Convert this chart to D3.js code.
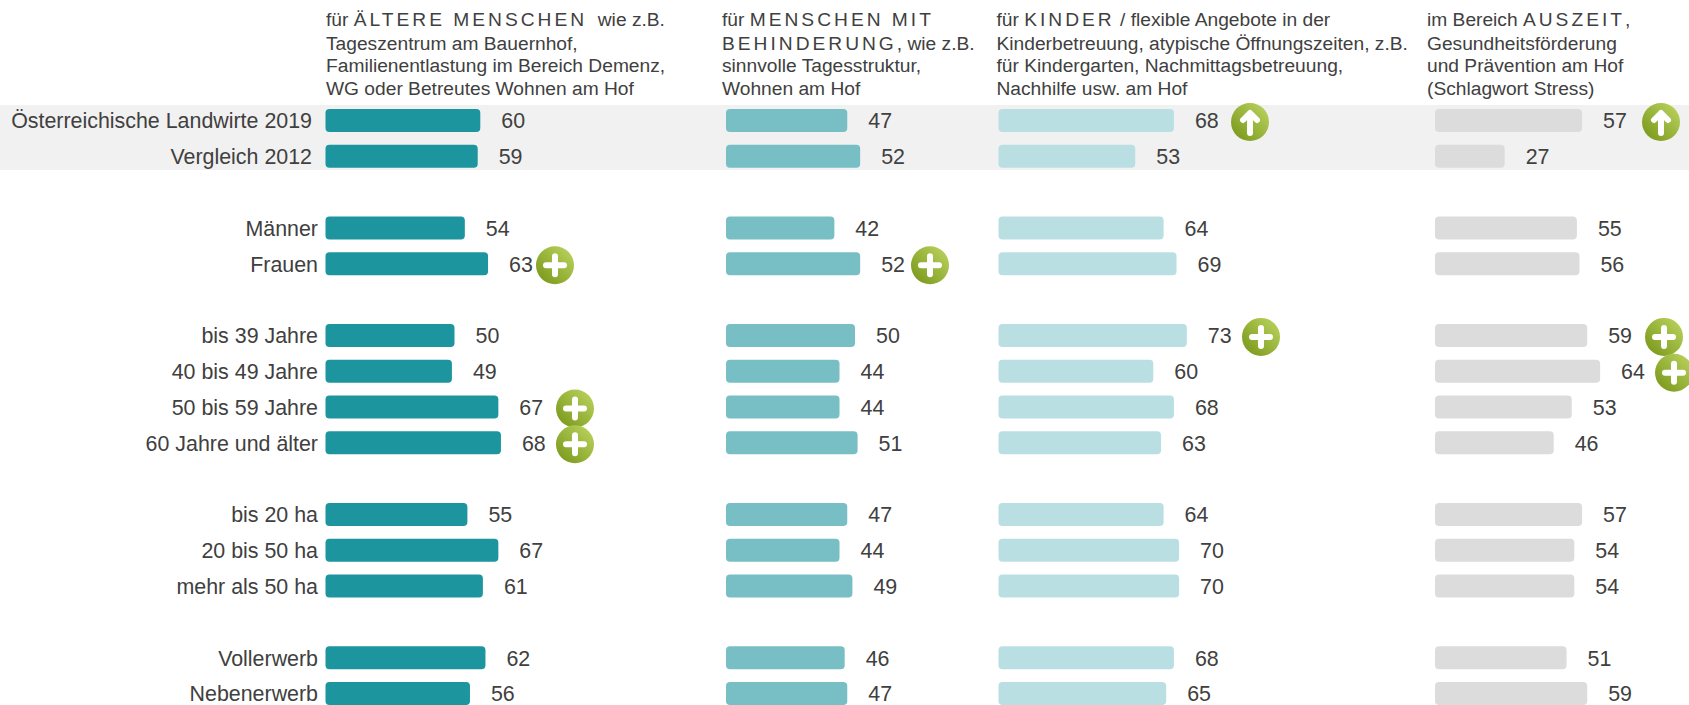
<!DOCTYPE html>
<html><head><meta charset="utf-8">
<script src="https://cdn.jsdelivr.net/npm/d3@7/dist/d3.min.js"></script>
<style>html,body{margin:0;padding:0;background:#fff;overflow:hidden}svg{display:block}text{font-family:"Liberation Sans",Arial,sans-serif;fill:#404040}</style>
</head><body><svg id="c" width="1689" height="705"></svg>
<script>
const rowLabels=["Österreichische Landwirte 2019","Vergleich 2012","Männer","Frauen","bis 39 Jahre","40 bis 49 Jahre","50 bis 59 Jahre","60 Jahre und älter","bis 20 ha","20 bis 50 ha","mehr als 50 ha","Vollerwerb","Nebenerwerb"];
const rowSlots=[0,1,3,4,6,7,8,9,11,12,13,15,16];
const aeltere=[60,59,54,63,50,49,67,68,55,67,61,62,56];
const behinderung=[47,52,42,52,50,44,44,51,47,44,49,46,47];
const kinder=[68,53,64,69,73,60,68,63,64,70,70,68,65];
const auszeit=[57,27,55,56,59,64,53,46,57,54,54,51,59];
const headerAeltere=["für *ÄLTERE MENSCHEN*  wie z.B.","Tageszentrum am Bauernhof,","Familienentlastung im Bereich Demenz,","WG oder Betreutes Wohnen am Hof"];
const headerBehinderung=["für *MENSCHEN MIT*","*BEHINDERUNG*, wie z.B.","sinnvolle Tagesstruktur,","Wohnen am Hof"];
const headerKinder=["für *KINDER* / flexible Angebote in der","Kinderbetreuung, atypische Öffnungszeiten, z.B.","für Kindergarten, Nachmittagsbetreuung,","Nachhilfe usw. am Hof"];
const headerAuszeit=["im Bereich *AUSZEIT*,","Gesundheitsförderung","und Prävention am Hof","(Schlagwort Stress)"];
// markers: [column, row, kind]
const markers=[[0,3,"plus"],[0,6,"plus"],[0,7,"plus"],[1,3,"plus"],[2,0,"up"],[2,4,"plus"],[3,0,"up"],[3,4,"plus"],[3,5,"plus"]];
const markerX=[555,575,575,930,1250,1261,1661,1664,1674];

const columns=[
 {v:aeltere,h:headerAeltere,x:325.5,hx:326,c:"#1c959e"},
 {v:behinderung,h:headerBehinderung,x:726,hx:722,c:"#78bec5"},
 {v:kinder,h:headerKinder,x:998.5,hx:996.5,c:"#badfe3"},
 {v:auszeit,h:headerAuszeit,x:1435,hx:1427,c:"#dcdcdc"}];
const svg=d3.select("#c");
const y=d3.scaleLinear().domain([0,16]).range([120.5,693.5]);
const w=d3.scaleLinear().domain([0,100]).range([0,258]);
const barH=23;
const defs=svg.append("defs");
const g=defs.append("linearGradient").attr("id","badge").attr("x1","0.1").attr("y1","0.9").attr("x2","0.9").attr("y2","0.1");
g.append("stop").attr("offset","0").attr("stop-color","#7c9a1e");
g.append("stop").attr("offset","1").attr("stop-color","#b7d05a");

svg.append("rect").attr("x",0).attr("y",105).attr("width",1689).attr("height",65).attr("fill","#f1f1f1");

rowLabels.forEach((t,i)=>{
 svg.append("text").attr("x",i<2?312:318).attr("y",y(rowSlots[i])+0.5).attr("dy","0.35em")
  .attr("text-anchor","end").attr("font-size",21.4).text(t);
});
columns.forEach(col=>{
 const hg=svg.append("g");
 col.h.forEach((line,li)=>{
  const t=hg.append("text").attr("x",col.hx).attr("y",[26,50,72,95][li]).attr("font-size",19.2).attr("xml:space","preserve").style("white-space","pre");
  line.split("*").forEach((s,k)=>{
   if(s) t.append("tspan").attr("letter-spacing",k%2?3:0).text(s);
  });
 });
 svg.append("g").selectAll("rect").data(col.v).join("rect")
  .attr("x",col.x).attr("y",(d,i)=>y(rowSlots[i])-barH/2).attr("width",d=>w(d)).attr("height",barH)
  .attr("rx",4).attr("fill",col.c);
 svg.append("g").selectAll("text").data(col.v).join("text")
  .attr("x",d=>col.x+w(d)+21).attr("y",(d,i)=>y(rowSlots[i])+0.5).attr("dy","0.35em")
  .attr("font-size",21.4).text(d=>d);
});
markers.forEach((m,i)=>{
 const b=svg.append("g").attr("transform",`translate(${markerX[i]},${y(rowSlots[m[1]])+1.5})`);
 b.append("circle").attr("r",19).attr("fill","url(#badge)");
 const p=b.append("path").attr("fill","none").attr("stroke","#fff").attr("stroke-width",6).attr("stroke-linecap","round").attr("stroke-linejoin","round");
 p.attr("d",m[2]==="plus"?"M-9,0H9M0,-9V9":"M0,11V-8M-7,-2L0,-9L7,-2");
});
</script></body></html>
